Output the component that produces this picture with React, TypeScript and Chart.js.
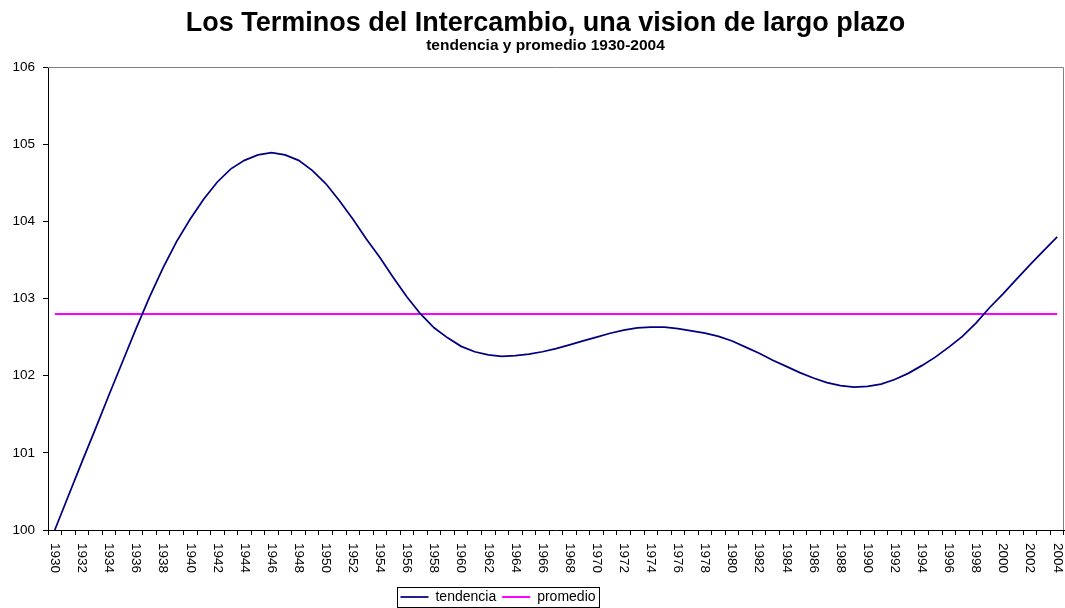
import React, { useEffect, useRef } from 'react';
import { Chart, registerables } from 'chart.js';

Chart.register(...registerables);

const FONT = '"Liberation Sans", Arial, Helvetica, sans-serif';

const years = [
  '1930', '1931', '1932', '1933', '1934', '1935', '1936', '1937', '1938', '1939',
  '1940', '1941', '1942', '1943', '1944', '1945', '1946', '1947', '1948', '1949',
  '1950', '1951', '1952', '1953', '1954', '1955', '1956', '1957', '1958', '1959',
  '1960', '1961', '1962', '1963', '1964', '1965', '1966', '1967', '1968', '1969',
  '1970', '1971', '1972', '1973', '1974', '1975', '1976', '1977', '1978', '1979',
  '1980', '1981', '1982', '1983', '1984', '1985', '1986', '1987', '1988', '1989',
  '1990', '1991', '1992', '1993', '1994', '1995', '1996', '1997', '1998', '1999',
  '2000', '2001', '2002', '2003', '2004',
];

const tendencia = [
  100.0, 100.44, 100.88, 101.31, 101.75, 102.18, 102.61, 103.02, 103.4, 103.74,
  104.03, 104.29, 104.51, 104.68, 104.79, 104.86, 104.89, 104.86, 104.79, 104.66,
  104.49, 104.27, 104.03, 103.77, 103.53, 103.27, 103.02, 102.8, 102.62, 102.49,
  102.38, 102.31, 102.27, 102.25, 102.26, 102.28, 102.31, 102.35, 102.4, 102.45,
  102.5, 102.55, 102.59, 102.62, 102.63, 102.63, 102.61, 102.58, 102.55, 102.51,
  102.45, 102.37, 102.29, 102.2, 102.12, 102.04, 101.97, 101.91, 101.87, 101.85,
  101.86, 101.89, 101.95, 102.03, 102.13, 102.24, 102.37, 102.51, 102.68, 102.88,
  103.06, 103.25, 103.44, 103.62, 103.8,
];

const promedioValue = 102.8;
const promedio = years.map(() => promedioValue);

const yMin = 100;
const yMax = 106;
const yStep = 1;

const titleText = 'Los Terminos del Intercambio, una vision de largo plazo';
const subtitleText = 'tendencia y promedio 1930-2004';
const seriesNames = ['tendencia', 'promedio'];

const decorPlugin = {
  id: 'decor',
  afterLayout(chart: any) {
    const lg = chart.legend;
    if (lg) {
      lg.right = lg.right - 68;
    }
    (chart.boxes || []).forEach((b: any) => {
      if (b && b.options && (b.options.text === titleText || b.options.text === subtitleText)) {
        b.left = b.left + 27;
      }
    });
  },
  afterDraw(chart: any) {
    const { ctx, chartArea } = chart;
    const xs = chart.scales.x;
    ctx.save();
    // plot area top/right border
    ctx.strokeStyle = '#808080';
    ctx.lineWidth = 1;
    ctx.beginPath();
    ctx.moveTo(chartArea.left, chartArea.top + 0.5);
    ctx.lineTo(chartArea.right - 0.5, chartArea.top + 0.5);
    ctx.lineTo(chartArea.right - 0.5, chartArea.bottom);
    ctx.stroke();

    // x tick labels rotated clockwise
    ctx.font = `13.5px ${FONT}`;
    ctx.fillStyle = '#000';
    ctx.textAlign = 'left';
    ctx.textBaseline = 'middle';
    xs.ticks.forEach((t: any, i: number) => {
      if (!t.label) return;
      const px = xs.getPixelForTick(i);
      ctx.save();
      ctx.translate(px, chartArea.bottom + 13);
      ctx.rotate(Math.PI / 2);
      ctx.fillText(String(t.label), 0, 0);
      ctx.restore();
    });

    // legend frame
    const lg = chart.legend;
    if (lg && lg.legendHitBoxes && lg.legendHitBoxes.length) {
      const hb = lg.legendHitBoxes;
      const first = hb[0];
      const last = hb[hb.length - 1];
      const l = first.left - 3;
      const r = last.left + last.width + 4;
      const t = first.top - 3;
      const b = first.top + first.height + 3;
      ctx.strokeStyle = '#000';
      ctx.lineWidth = 1;
      ctx.strokeRect(Math.round(l) + 0.5, Math.round(t) + 0.5, Math.round(r - l), Math.round(b - t));
    }
    ctx.restore();
  },
};

export default function App() {
  const canvasRef = useRef<HTMLCanvasElement | null>(null);

  useEffect(() => {
    if (!canvasRef.current) return;
    Chart.defaults.color = '#000';
    Chart.defaults.font.family = FONT;
    const chart = new Chart(canvasRef.current, {
      type: 'line',
      data: {
        labels: years,
        datasets: [
          {
            label: seriesNames[0],
            data: tendencia,
            borderColor: '#000080',
            backgroundColor: '#000080',
            borderWidth: 1.75,
            pointRadius: 0,
            tension: 0,
            fill: false,
          },
          {
            label: seriesNames[1],
            data: promedio,
            borderColor: '#FF00FF',
            backgroundColor: '#FF00FF',
            borderWidth: 2,
            pointRadius: 0,
            tension: 0,
            fill: false,
          },
        ],
      },
      options: {
        animation: false,
        responsive: true,
        maintainAspectRatio: false,
        layout: { padding: { left: 0, right: 1, top: 0, bottom: 0 } },
        plugins: {
          title: {
            display: true,
            text: titleText,
            color: '#000',
            font: { family: FONT, size: 27, weight: 'bold', lineHeight: 0.8 },
            padding: { top: 13.2, bottom: 0 },
          },
          subtitle: {
            display: true,
            text: subtitleText,
            color: '#000',
            font: { family: FONT, size: 15.5, weight: 'bold', lineHeight: 1 },
            padding: { top: 3.05, bottom: 13.65 },
          },
          legend: {
            display: true,
            position: 'bottom',
            maxHeight: 24,
            labels: {
              color: '#000',
              font: { family: FONT, size: 14 },
              usePointStyle: true,
              pointStyle: 'line',
              pointStyleWidth: 28,
              boxHeight: 14,
              padding: 6,
            },
          },
          tooltip: { enabled: false },
        },
        scales: {
          x: {
            type: 'category',
            offset: true,
            afterFit: (scale: any) => {
              scale.height = 54;
            },
            grid: {
              offset: true,
              drawOnChartArea: false,
              drawTicks: true,
              tickLength: 5,
              color: '#000',
            },
            border: { display: true, color: '#000', width: 1 },
            ticks: {
              display: false,
              autoSkip: false,
              maxRotation: 0,
              callback: (_v: any, i: number) => (i % 2 === 0 ? years[i] : ''),
            },
          },
          y: {
            min: yMin,
            max: yMax,
            afterFit: (scale: any) => {
              scale.width = 48;
            },
            grid: {
              drawOnChartArea: false,
              drawTicks: true,
              tickLength: 5,
              color: '#000',
            },
            border: { display: true, color: '#000', width: 1 },
            ticks: {
              stepSize: yStep,
              padding: 8,
              color: '#000',
              font: { family: FONT, size: 13.5 },
            },
          },
        },
      },
      plugins: [decorPlugin],
    } as any);
    return () => chart.destroy();
  }, []);

  return (
    <div style={{ position: 'fixed', left: 0, top: 0, width: 1065, height: 608, background: '#fff' }}>
      <canvas ref={canvasRef} />
    </div>
  );
}
